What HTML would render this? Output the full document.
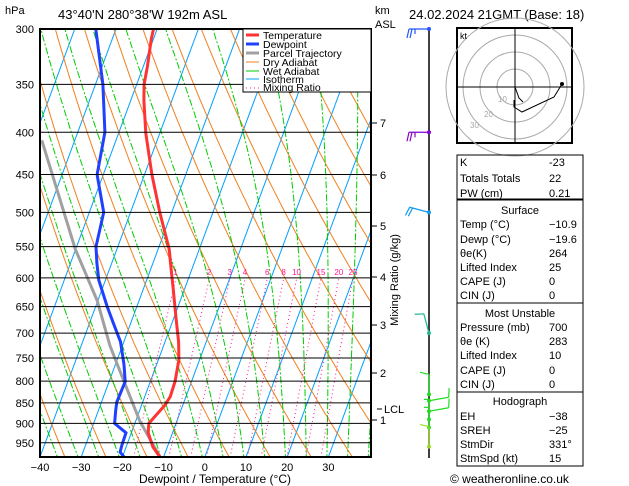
<!DOCTYPE html>
<html><head><meta charset="utf-8"><style>
body{margin:0;background:#fff;width:629px;height:486px;overflow:hidden}
svg{display:block;font-family:"Liberation Sans",sans-serif}
</style></head><body>
<svg id="chart" width="629" height="486" viewBox="0 0 629 486">
<defs><clipPath id="pc"><rect x="40" y="29" width="331" height="428"/></clipPath></defs>
<g id="bg" clip-path="url(#pc)"></g>
<g id="prof" clip-path="url(#pc)"></g>
<g id="axes"></g>
<text x="5" y="14" font-size="11">hPa</text>
<text x="58" y="19" font-size="13">43°40'N  280°38'W  192m  ASL</text>
<text x="375" y="14" font-size="11">km</text>
<text x="375" y="28" font-size="11">ASL</text>
<text x="409" y="19" font-size="13">24.02.2024  21GMT  (Base: 18)</text>
<text x="215" y="483" font-size="12" text-anchor="middle">Dewpoint / Temperature (°C)</text>
<text transform="translate(398,280) rotate(-90)" font-size="11" text-anchor="middle">Mixing Ratio (g/kg)</text>
<g>
<rect x="243" y="29" width="128" height="63" fill="#fff" stroke="#000" stroke-width="1"/>
<g font-size="10.5">
<line x1="246" y1="35" x2="259" y2="35" stroke="#ff3333" stroke-width="3"/><text x="263" y="39">Temperature</text>
<line x1="246" y1="44" x2="259" y2="44" stroke="#2040ff" stroke-width="3"/><text x="263" y="48">Dewpoint</text>
<line x1="246" y1="53" x2="259" y2="53" stroke="#a0a0a0" stroke-width="3"/><text x="263" y="57">Parcel Trajectory</text>
<line x1="246" y1="62" x2="259" y2="62" stroke="#f08020" stroke-width="1"/><text x="263" y="66">Dry Adiabat</text>
<line x1="246" y1="71" x2="259" y2="71" stroke="#00cc00" stroke-width="1"/><text x="263" y="75">Wet Adiabat</text>
<line x1="246" y1="79" x2="259" y2="79" stroke="#00a0ff" stroke-width="1"/><text x="263" y="83">Isotherm</text>
<line x1="246" y1="88" x2="259" y2="88" stroke="#ff1493" stroke-width="1" stroke-dasharray="1,3"/><text x="263" y="91">Mixing Ratio</text>
</g></g>
<g id="wind"></g>
<g>
<rect x="457" y="28" width="115" height="115" fill="#fff" stroke="#000" stroke-width="2"/>
<g fill="none" stroke="#aaa"><circle cx="515" cy="87" r="18"/><circle cx="515" cy="87" r="35"/><circle cx="515" cy="87" r="52"/><circle cx="515" cy="87" r="69"/></g>
<line x1="458" y1="87" x2="571" y2="87" stroke="#000"/><line x1="515" y1="29" x2="515" y2="142" stroke="#000"/>
<text x="460" y="39" font-size="9">kt</text>
<polyline points="515,87 519,98 523,102" fill="none" stroke="#000"/>
<polyline points="514,100 514,107 522,112 554,97 562,84" fill="none" stroke="#000"/>
<circle cx="562" cy="84" r="2"/>
<g font-size="8" fill="#aaa"><text x="498" y="102">10</text><text x="484" y="117">20</text><text x="470" y="128">30</text></g>
</g>
<g id="table" font-size="11"></g>
<text x="450" y="483" font-size="12">© weatheronline.co.uk</text>
<script>
const tempP=[988,961,924,900,855,835,801,754,717,669,615,582,554,500,450,401,366,350,333,309,300];
const tempT=[-10.9,-13.5,-15.9,-16.6,-14.3,-13.8,-14.0,-15.0,-16.7,-19.6,-23.0,-25.3,-27.3,-32.9,-38.2,-43.4,-46.8,-48.2,-49.0,-50.5,-50.9];
const dewP=[988,975,956,924,900,868,848,801,764,717,682,650,604,576,550,500,450,400,350,300];
const dewT=[-19.6,-21.0,-21.2,-21.3,-24.9,-25.8,-26.3,-26.1,-27.9,-30.8,-34.1,-37.2,-41.6,-43.6,-45.3,-46.5,-51.5,-53.4,-58.2,-64.9];
const parcelP=[988,893,808,725,639,554,409];
const parcelT=[-10.9,-19.1,-25.8,-33.0,-40.2,-50.1,-68.0];
const pLevels=[300,350,400,450,500,550,600,650,700,750,800,850,900,950];
const xTicks=[-40,-30,-20,-10,0,10,20,30];
const mixVals=[1,2,3,4,6,8,10,15,20,25];
const kmVals=[1,2,3,4,5,6,7];
const kmY=[420,373,325,277,226,175,123];
const windP=[300,400,500,700,830,845,870,890,910,960];
const windDir=[270,270,285,345,0,80,80,0,0,0];
const windSpd=[25,25,20,10,10,10,10,5,5,10];
const windCol=["#2255ff","#8800cc","#1199ee","#22bb99","#22dd22","#22dd22","#22dd22","#22dd22","#22dd22","#99dd22"];

const NS="http://www.w3.org/2000/svg";
function yP(p){return 29+359*Math.log(p/300);}
function xT(t,p){return 40+(t+40)*4.12+0.37*(457-yP(p));}
function mk(tag,at,par){const e=document.createElementNS(NS,tag);for(const k in at)e.setAttribute(k,at[k]);par.appendChild(e);return e;}
const bg=document.getElementById('bg'),prof=document.getElementById('prof'),axes=document.getElementById('axes');
for(let t=-120;t<=40;t+=10){const l=mk('line',{x1:xT(t,1000),y1:yP(1000),x2:xT(t,290),y2:yP(290),stroke:'#00a0ff','stroke-width':1},bg);
}
for(let th=230;th<=460;th+=10){let pts=[];for(let p=1000;p>=290;p-=10){const T=th*Math.pow(p/1000,0.286)-273.15;pts.push(xT(T,p).toFixed(1)+','+yP(p).toFixed(1));}
const l=mk('polyline',{points:pts.join(' '),fill:'none',stroke:'#f08020','stroke-width':1},bg);
}
function es(T){return 6.112*Math.exp(17.67*T/(T+243.5));}
for(let t0=-40;t0<=45;t0+=5){let T=t0+273.15,pts=[];for(let p=1000;p>=290;p-=5){pts.push(xT(T-273.15,p).toFixed(1)+','+yP(p).toFixed(1));
const e=es(T-273.15),rs=0.622*e/(p-e),Lv=2.5e6,Rd=287,cp=1004;const d=(Rd*T+Lv*rs)/(cp+Lv*Lv*rs*0.622/(Rd*T*T));T+=d*Math.log((p-5)/p);}
const l=mk('polyline',{points:pts.join(' '),fill:'none',stroke:'#00cc00','stroke-width':1,'stroke-dasharray':'7,2,2,2'},bg);
}
function tdW(w,p){const e=w*p/(622+w);const a=Math.log(e/6.112);return 243.5*a/(17.67-a);}
mixVals.forEach(w=>{const l=mk('line',{x1:xT(tdW(w,1000),1000),y1:yP(1000),x2:xT(tdW(w,600),600),y2:yP(600),stroke:'#ff1493','stroke-width':1,'stroke-dasharray':'1,3'},bg);

const tx=mk('text',{x:xT(tdW(w,618),618)+2,y:275,'font-size':8,fill:'#ff1493','text-anchor':'middle'},bg);tx.textContent=w;
});
pLevels.forEach(p=>{const l=mk('line',{x1:40,y1:yP(p),x2:371,y2:yP(p),stroke:'#000','stroke-width':1},axes);

const t=mk('text',{x:34,y:yP(p)+4,'font-size':11,'text-anchor':'end'},axes);t.textContent=p;
});
const fr=mk('rect',{x:40,y:29,width:331,height:428,fill:'none',stroke:'#000','stroke-width':2},axes);

xTicks.forEach(t=>{const tx=mk('text',{x:40+(t+40)*4.12,y:471,'font-size':11,'text-anchor':'middle'},axes);tx.textContent=t<0?'−'+(-t):t;
});
kmVals.forEach((k,i)=>{mk('line',{x1:371,y1:kmY[i],x2:377,y2:kmY[i],stroke:'#000'},axes);
const tx=mk('text',{x:380,y:kmY[i]+4,'font-size':11},axes);tx.textContent=k;
});
mk('line',{x1:377,y1:409,x2:382,y2:409,stroke:'#000'},axes);
const lcl=mk('text',{x:384,y:413,'font-size':11},axes);lcl.textContent='LCL';

function line(P,T,col,w,name){const pts=P.map((p,i)=>xT(T[i],p).toFixed(1)+','+yP(p).toFixed(1)).join(' ');
const l=mk('polyline',{points:pts,fill:'none',stroke:col,'stroke-width':w},prof);
}
line(parcelP,parcelT,'#a0a0a0',3,'parcel-trajectory');
line(dewP,dewT,'#2040ff',3,'dewpoint-line');
line(tempP,tempT,'#ff3333',3,'temperature-line');
const wg=document.getElementById('wind');
mk('line',{x1:429,y1:29,x2:429,y2:458,stroke:'#000','stroke-width':1.5},wg);
windP.forEach((p,i)=>{const y=yP(p),x=429,c=windCol[i],a=windDir[i]*Math.PI/180;
const dx=Math.sin(a),dy=-Math.cos(a),L=20;const ex=x+dx*L,ey=y+dy*L;
const g=mk('g',{},wg);


mk('line',{x1:x,y1:y,x2:ex,y2:ey,stroke:c,'stroke-width':1.3},g);
mk('circle',{cx:x,cy:y,r:2,fill:c},g);
const px=dy,py=-dx;let s=windSpd[i],k=0;
while(s>=10){const bx=ex-dx*k*3,by=ey-dy*k*3;mk('line',{x1:bx,y1:by,x2:bx+px*9+dx*2,y2:by+py*9+dy*2,stroke:c,'stroke-width':1.2},g);s-=10;k++;}
if(s>=5){const bx=ex-dx*k*3,by=ey-dy*k*3;mk('line',{x1:bx,y1:by,x2:bx+px*5,y2:by+py*5,stroke:c,'stroke-width':1.2},g);}
});
const tb=document.getElementById('table');
const rows=[[162,'K','-23'],[178,'Totals Totals','22'],[193,'PW (cm)','0.21'],[210,'Surface',null],[224,'Temp (°C)','−10.9'],[239,'Dewp (°C)','−19.6'],[253,'θe(K)','264'],[267,'Lifted Index','25'],[281,'CAPE (J)','0'],[295,'CIN (J)','0'],
[313,'Most Unstable',null],[327,'Pressure (mb)','700'],[341,'θe (K)','283'],[355,'Lifted Index','10'],[370,'CAPE (J)','0'],[384,'CIN (J)','0'],
[401,'Hodograph',null],[416,'EH','−38'],[430,'SREH','−25'],[444,'StmDir','331°'],[458,'StmSpd (kt)','15']];
[[155,44],[200,103],[303,89],[392,74]].forEach(b=>mk('rect',{x:457,y:b[0],width:126,height:b[1],fill:'none',stroke:'#000','stroke-width':1},tb));
rows.forEach(r=>{if(r[2]===null){const t=mk('text',{x:520,y:r[0]+4,'text-anchor':'middle'},tb);t.textContent=r[1];

}
else{const t=mk('text',{x:460,y:r[0]+4},tb);t.textContent=r[1];


const v=mk('text',{x:549,y:r[0]+4},tb);v.textContent=r[2];

}});
</script>
</svg>
</body></html>
